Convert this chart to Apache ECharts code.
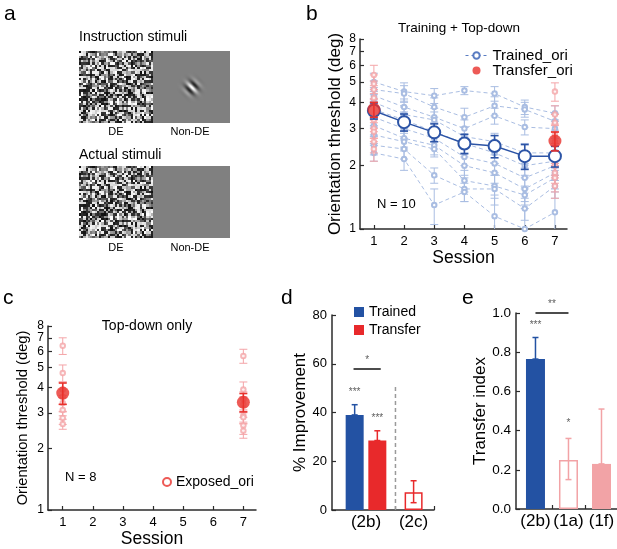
<!DOCTYPE html>
<html><head><meta charset="utf-8">
<script src="https://cdn.jsdelivr.net/npm/echarts@6/dist/echarts.min.js"></script>
<style>html,body{margin:0;padding:0;background:#fff}#c{width:617px;height:549px}</style>
</head><body><div id="c"></div>
<script>
// ---------- DATA ----------
const sessions = [1, 2, 3, 4, 5, 6, 7];
const thresholdTicks = [1, 2, 3, 4, 5, 6, 7, 8];

// Panel b: Training + Top-down (10 subjects, trained orientation, sessions 1-7)
const trainedSubjects = [
  [5.0, 4.5, 4.3, 4.55, 4.4, 3.8, 3.55],
  [4.6, 4.4, 3.8, 3.4, 3.85, 3.7, 3.25],
  [4.3, 3.8, 3.4, 3.0, 3.45, 3.05, 3.0],
  [4.0, 3.5, 3.3, 2.75, 2.6, 2.3, 2.3],
  [3.7, 3.3, 2.9, 2.55, 2.3, 2.0, 2.1],
  [3.4, 3.0, 2.7, 2.2, 2.05, 1.75, 2.0],
  [3.1, 2.7, 2.5, 2.0, 1.85, 1.55, 1.85],
  [2.8, 2.6, 2.4, 1.7, 1.6, 1.45, 1.75],
  [2.5, 2.4, 1.8, 1.55, 1.55, 1.25, 1.6],
  [2.3, 2.15, 1.3, 1.5, 1.15, 1.0, 1.2]
];
const trainedSubjectErr = [
  [0.5, 0.45, 0.35, 0.2, 0.35, 0.3, 0.3],
  [0.45, 0.4, 0.4, 0.35, 0.4, 0.3, 0.3],
  [0.4, 0.35, 0.35, 0.3, 0.3, 0.25, 0.3],
  [0.35, 0.3, 0.3, 0.3, 0.25, 0.25, 0.25],
  [0.35, 0.3, 0.3, 0.25, 0.25, 0.2, 0.2],
  [0.3, 0.3, 0.3, 0.2, 0.2, 0.2, 0.2],
  [0.3, 0.25, 0.25, 0.2, 0.2, 0.2, 0.15],
  [0.25, 0.25, 0.2, 0.2, 0.2, 0.15, 0.2],
  [0.25, 0.25, 0.15, 0.2, 0.25, 0.15, 0.2],
  [0.2, 0.25, 0.25, 0.15, 0.3, 0.25, 0.3]
];
const trainedMean = [3.65, 3.22, 2.88, 2.55, 2.48, 2.22, 2.22];
const trainedMeanErr = [0.32, 0.3, 0.28, 0.27, 0.3, 0.3, 0.25];

const transferSessions = [1, 7];
const transferSubjects = [
  [5.4, 4.9, 4.6, 4.2, 3.8, 3.3, 3.0, 2.9, 2.6, 2.4],
  [4.5, 3.5, 3.2, 2.8, 2.6, 2.3, 2.0, 1.85, 1.75, 1.6]
];
const transferSubjectErr = [
  [0.6, 0.5, 0.45, 0.4, 0.35, 0.3, 0.3, 0.3, 0.3, 0.3],
  [0.45, 0.35, 0.3, 0.3, 0.3, 0.25, 0.25, 0.2, 0.25, 0.2]
];
const transferMean = [3.7, 2.62];
const transferMeanErr = [0.3, 0.27];

// Panel c: Top-down only (8 subjects, sessions 1 and 7)
const exposedSessions = [1, 7];
const exposedSubjects = [
  [6.4, 4.7, 3.9, 3.6, 3.35, 3.1, 2.83, 2.64],
  [5.7, 3.9, 3.5, 3.3, 2.9, 2.85, 2.6, 2.45]
];
const exposedSubjectErr = [
  [0.6, 0.45, 0.35, 0.3, 0.3, 0.2, 0.2, 0.15],
  [0.45, 0.35, 0.3, 0.3, 0.2, 0.2, 0.25, 0.2]
];
const exposedMean = [3.75, 3.38];
const exposedMeanErr = [0.45, 0.35];

// Panel d: % Improvement
const improvementLabels = ['(2b)', '(2c)'];
const improvementLabelPos = [1.5, 3.6];
const improvementTicks = [2.8, 4.5];
const improvementTrained = [1, 39];
const improvementTransfer = [2, 28.5];
const improvementTopDown = [3.6, 7.3];
const improvementErrBars = [[1, 39, 43.2], [2, 28.5, 32.5], [3.6, 3.0, 12.0]];
const improvementDivider = [2.8, 51];
const improvementSigLine = [[0.95, 57.8], [2.15, 57.8]];
const improvementStars = [['*', 1.55, 61.5], ['***', 1, 48.5], ['***', 2, 37.5]];

// Panel e: Transfer index
const transferIdxLabels = ['(2b)', '(1a)', '(1f)'];
const transferIdxPos = [1, 2, 3];
const transferIdxTicks = [1.5, 2.5];
const transferIdx2b = [1, 0.765];
const transferIdx1a = [2, 0.25];
const transferIdx1f = [3, 0.23];
const transferIdxErrBars = [[1, 0.765, 0.875], [2, 0.15, 0.36], [3, 0.23, 0.51]];
const transferIdxSigLine = [[1, 1.0], [2, 1.0]];
const transferIdxStars = [['**', 1.5, 1.045], ['***', 1, 0.935], ['*', 2, 0.44]];

// ---------- STYLE ----------
const FONT = 'Arial, "Liberation Sans", Helvetica, sans-serif';
const AX = '#2b2b2b';
const DARKBLUE = '#2c54a6';
const LIGHTBLUE = '#a9bde2';
const PINK = '#f4a5a8';
const RED = '#e8312c';
const BARBLUE = '#2352a3';
const BARRED = '#e8292b';
const EPINK = '#f2a3a6';

// ---------- PANEL A IMAGES (stimulus pictures, decoration) ----------
function hash(x, y) {
  let h = (x * 374761393 + y * 668265263) | 0;
  h = Math.imul(h ^ (h >>> 13), 1274126177);
  h = h ^ (h >>> 16);
  return (h >>> 0) / 4294967296;
}
function makeNoise(w, h) {
  const cw = 33, ch = 32;
  const small = document.createElement('canvas'); small.width = cw; small.height = ch;
  const sctx = small.getContext('2d');
  const sd = sctx.createImageData(cw, ch);
  for (let y = 0; y < ch; y++) {
    for (let x = 0; x < cw; x++) {
      const r = hash(x + 11, y + 7);
      let g;
      if (r < 0.35) g = 15 + r * 120;
      else if (r > 0.65) g = 200 + (r - 0.65) * 160;
      else g = 70 + (r - 0.35) * 380;
      g = Math.max(0, Math.min(255, g | 0));
      const i = (y * cw + x) * 4;
      sd.data[i] = sd.data[i + 1] = sd.data[i + 2] = g; sd.data[i + 3] = 255;
    }
  }
  sctx.putImageData(sd, 0, 0);
  const cv = document.createElement('canvas'); cv.width = w; cv.height = h;
  const ctx = cv.getContext('2d');
  ctx.imageSmoothingEnabled = false;
  ctx.drawImage(small, 0, 0, w, h);
  return cv.toDataURL();
}
function makeGray(w, h, gabor) {
  const cv = document.createElement('canvas'); cv.width = w; cv.height = h;
  const ctx = cv.getContext('2d');
  const img = ctx.createImageData(w, h);
  const cx = w / 2, cy = h / 2, sigma = 4.6, lambda = 8;
  for (let y = 0; y < h; y++) {
    for (let x = 0; x < w; x++) {
      let v = 128;
      if (gabor) {
        const dx = x - cx, dy = y - cy;
        const u = (dx - dy) / Math.SQRT2;
        const env = Math.exp(-(dx * dx + dy * dy) / (2 * sigma * sigma));
        v = 128 + 127 * env * Math.cos(2 * Math.PI * u / lambda);
      }
      const i = (y * w + x) * 4;
      img.data[i] = img.data[i + 1] = img.data[i + 2] = v;
      img.data[i + 3] = 255;
    }
  }
  ctx.putImageData(img, 0, 0);
  return cv.toDataURL();
}
const noiseURL = makeNoise(74, 72);
const gaborURL = makeGray(77, 72, true);
const grayURL = makeGray(77, 72, false);

// ---------- HELPERS ----------
function errSeries(data, xi, yi, color, width, cap, z) {
  return {
    type: 'custom', xAxisIndex: xi, yAxisIndex: yi, z: z, silent: true, clip: true,
    data: data, encode: { x: 0, y: [1, 2] },
    renderItem: function (params, api) {
      const x = api.value(0), lo = api.value(1), hi = api.value(2);
      const p1 = api.coord([x, lo]), p2 = api.coord([x, hi]);
      const st = { stroke: color, lineWidth: width, fill: null };
      return {
        type: 'group', children: [
          { type: 'line', shape: { x1: p1[0], y1: p1[1], x2: p2[0], y2: p2[1] }, style: st },
          { type: 'line', shape: { x1: p2[0] - cap, y1: p2[1], x2: p2[0] + cap, y2: p2[1] }, style: st },
          { type: 'line', shape: { x1: p1[0] - cap, y1: p1[1], x2: p1[0] + cap, y2: p1[1] }, style: st }
        ]
      };
    }
  };
}
function axisBase(gi) {
  return {
    gridIndex: gi,
    axisLine: { show: true, onZero: false, lineStyle: { color: AX, width: 1.5 } },
    axisTick: { show: true, inside: true, length: 4, lineStyle: { color: AX, width: 1.2 } },
    axisLabel: { color: '#000', fontFamily: FONT },
    splitLine: { show: false },
    nameLocation: 'middle',
    nameTextStyle: { color: '#000', fontFamily: FONT }
  };
}
function merge(a, b) {
  const o = Object.assign({}, a);
  for (const k in b) {
    if (b[k] && typeof b[k] === 'object' && !Array.isArray(b[k]) && a[k] && typeof a[k] === 'object') o[k] = Object.assign({}, a[k], b[k]);
    else o[k] = b[k];
  }
  return o;
}
function starSeries(stars, xi, yi) {
  return {
    type: 'scatter', xAxisIndex: xi, yAxisIndex: yi, symbolSize: 0, silent: true, z: 20, clip: false,
    data: stars.map(s => ({ name: s[0], value: [s[1], s[2]] })),
    label: { show: true, position: 'inside', formatter: '{b}', fontSize: 10, color: '#333', fontFamily: FONT }
  };
}
function nearestLabel(v, pos, labels) {
  let best = 0;
  for (let i = 1; i < pos.length; i++) if (Math.abs(pos[i] - v) < Math.abs(pos[best] - v)) best = i;
  return labels[best];
}

// ---------- SERIES ----------
const series = [];
// Panel b subjects
trainedSubjects.forEach(function (vals, i) {
  series.push({
    type: 'line', name: 'Trained_ori', xAxisIndex: 0, yAxisIndex: 0, z: 2, silent: true,
    data: sessions.map((s, k) => [s, vals[k]]),
    symbol: 'emptyCircle', symbolSize: 4.5,
    lineStyle: { color: LIGHTBLUE, width: 1, type: [4, 3] },
    itemStyle: { color: LIGHTBLUE, borderColor: LIGHTBLUE, borderWidth: 1 }
  });
});
const subjErrData = [];
trainedSubjects.forEach((vals, i) => vals.forEach((v, k) => subjErrData.push([sessions[k], v - trainedSubjectErr[i][k], v + trainedSubjectErr[i][k]])));
series.push(errSeries(subjErrData, 0, 0, LIGHTBLUE, 1, 4, 1));
// transfer subjects (pink)
const trSubjData = [], trSubjErr = [];
transferSessions.forEach((s, j) => transferSubjects[j].forEach((v, i) => {
  trSubjData.push([s, v]);
  trSubjErr.push([s, v - transferSubjectErr[j][i], v + transferSubjectErr[j][i]]);
}));
series.push(errSeries(trSubjErr, 0, 0, PINK, 1, 4, 3));
series.push({
  type: 'scatter', name: 'Transfer subjects', xAxisIndex: 0, yAxisIndex: 0, z: 4, silent: true,
  data: trSubjData, symbol: 'emptyCircle', symbolSize: 4.5,
  itemStyle: { color: PINK, borderColor: PINK, borderWidth: 1 }
});
// mean trained
series.push(errSeries(sessions.map((s, k) => [s, trainedMean[k] - trainedMeanErr[k], trainedMean[k] + trainedMeanErr[k]]), 0, 0, DARKBLUE, 1.6, 4, 6));
series.push({
  type: 'line', name: 'Trained mean', xAxisIndex: 0, yAxisIndex: 0, z: 7, silent: true,
  data: sessions.map((s, k) => [s, trainedMean[k]]),
  symbol: 'emptyCircle', symbolSize: 12,
  lineStyle: { color: DARKBLUE, width: 1.5 },
  itemStyle: { color: DARKBLUE, borderColor: DARKBLUE, borderWidth: 1.5 }
});
// mean transfer
series.push(errSeries(transferSessions.map((s, k) => [s, transferMean[k] - transferMeanErr[k], transferMean[k] + transferMeanErr[k]]), 0, 0, RED, 1.6, 4, 8));
series.push({
  type: 'scatter', name: 'Transfer_ori', xAxisIndex: 0, yAxisIndex: 0, z: 9, silent: true,
  data: transferSessions.map((s, k) => [s, transferMean[k]]),
  symbol: 'circle', symbolSize: 13, itemStyle: { color: RED }
});

// Panel c
const exData = [], exErr = [];
exposedSessions.forEach((s, j) => exposedSubjects[j].forEach((v, i) => {
  exData.push([s, v]);
  exErr.push([s, v - exposedSubjectErr[j][i], v + exposedSubjectErr[j][i]]);
}));
series.push(errSeries(exErr, 1, 1, PINK, 1, 4, 2));
series.push({
  type: 'scatter', name: 'Exposed_ori', xAxisIndex: 1, yAxisIndex: 1, z: 3, silent: true,
  data: exData, symbol: 'emptyCircle', symbolSize: 4.5,
  itemStyle: { color: PINK, borderColor: PINK, borderWidth: 1 }
});
series.push(errSeries(exposedSessions.map((s, k) => [s, exposedMean[k] - exposedMeanErr[k], exposedMean[k] + exposedMeanErr[k]]), 1, 1, RED, 1.6, 4, 5));
series.push({
  type: 'scatter', name: 'Exposed mean', xAxisIndex: 1, yAxisIndex: 1, z: 6, silent: true,
  data: exposedSessions.map((s, k) => [s, exposedMean[k]]),
  symbol: 'circle', symbolSize: 13, itemStyle: { color: RED }
});

// Panel d
series.push({ type: 'bar', name: 'Trained', xAxisIndex: 2, yAxisIndex: 2, barWidth: 18, barGap: '-100%', z: 3, silent: true,
  data: [improvementTrained], itemStyle: { color: BARBLUE } });
series.push({ type: 'bar', name: 'Transfer', xAxisIndex: 2, yAxisIndex: 2, barWidth: 18, barGap: '-100%', z: 3, silent: true,
  data: [improvementTransfer], itemStyle: { color: BARRED } });
series.push({ type: 'bar', name: 'Top-down (2c)', xAxisIndex: 2, yAxisIndex: 2, barWidth: 18, barGap: '-100%', z: 3, silent: true,
  data: [improvementTopDown], itemStyle: { color: '#fff', borderColor: BARRED, borderWidth: 1.5 } });
series.push(errSeries([improvementErrBars[0]], 2, 2, BARBLUE, 1.5, 3, 2));
series.push(errSeries([improvementErrBars[1]], 2, 2, BARRED, 1.5, 3, 2));
series.push(errSeries([improvementErrBars[2]], 2, 2, BARRED, 1.5, 3, 4));
series.push({ type: 'line', xAxisIndex: 2, yAxisIndex: 2, silent: true, z: 1, symbol: 'none',
  data: [[improvementDivider[0], 0], [improvementDivider[0], improvementDivider[1]]],
  lineStyle: { color: '#9a9a9a', width: 1.5, type: [4, 3] } });
series.push({ type: 'line', xAxisIndex: 2, yAxisIndex: 2, silent: true, z: 5, symbol: 'none',
  data: improvementSigLine, lineStyle: { color: '#111', width: 1.5 } });
series.push(starSeries(improvementStars, 2, 2));

// Panel e
series.push({ type: 'bar', name: '(2b)', xAxisIndex: 3, yAxisIndex: 3, barWidth: 19, barGap: '-100%', z: 3, silent: true,
  data: [transferIdx2b], itemStyle: { color: BARBLUE } });
series.push({ type: 'bar', name: '(1a)', xAxisIndex: 3, yAxisIndex: 3, barWidth: 19, barGap: '-100%', z: 3, silent: true,
  data: [transferIdx1a], itemStyle: { color: '#fff', borderColor: EPINK, borderWidth: 1.5 } });
series.push({ type: 'bar', name: '(1f)', xAxisIndex: 3, yAxisIndex: 3, barWidth: 19, barGap: '-100%', z: 3, silent: true,
  data: [transferIdx1f], itemStyle: { color: EPINK } });
series.push(errSeries([transferIdxErrBars[0]], 3, 3, BARBLUE, 1.5, 3, 2));
series.push(errSeries([transferIdxErrBars[1]], 3, 3, EPINK, 1.5, 3, 4));
series.push(errSeries([transferIdxErrBars[2]], 3, 3, EPINK, 1.5, 3, 2));
series.push({ type: 'line', xAxisIndex: 3, yAxisIndex: 3, silent: true, z: 5, symbol: 'none', clip: false,
  data: transferIdxSigLine, lineStyle: { color: '#111', width: 1.5 } });
series.push(starSeries(transferIdxStars, 3, 3));

// ---------- AXES ----------
const xAxis = [
  merge(axisBase(0), { type: 'value', min: 0.54, max: 7.4,
    axisTick: { customValues: sessions },
    axisLabel: { customValues: sessions, fontSize: 13, margin: 6 },
    name: 'Session', nameGap: 20, nameTextStyle: { fontSize: 17.5 } }),
  merge(axisBase(1), { type: 'value', min: 0.51, max: 7.42,
    axisTick: { customValues: sessions },
    axisLabel: { customValues: sessions, fontSize: 13, margin: 6 },
    name: 'Session', nameGap: 19, nameTextStyle: { fontSize: 17.5 } }),
  merge(axisBase(2), { type: 'value', min: 0, max: 4.5,
    axisTick: { customValues: improvementTicks },
    axisLabel: { customValues: improvementLabelPos, fontSize: 17, margin: 4,
      formatter: v => nearestLabel(v, improvementLabelPos, improvementLabels) } }),
  merge(axisBase(3), { type: 'value', min: 0.41, max: 3.47,
    axisTick: { customValues: transferIdxTicks },
    axisLabel: { customValues: transferIdxPos, fontSize: 17, margin: 4,
      formatter: v => nearestLabel(v, transferIdxPos, transferIdxLabels) } })
];
const yAxis = [
  merge(axisBase(0), { type: 'log', logBase: 10, min: 1, max: 8,
    axisTick: { customValues: thresholdTicks },
    axisLabel: { customValues: thresholdTicks, fontSize: 12, margin: 4 },
    name: 'Orientation threshold (deg)', nameGap: 16, nameTextStyle: { fontSize: 17 } }),
  merge(axisBase(1), { type: 'log', logBase: 10, min: 1, max: 8,
    axisTick: { customValues: thresholdTicks },
    axisLabel: { customValues: thresholdTicks, fontSize: 12, margin: 4 },
    name: 'Orientation threshold (deg)', nameGap: 18, nameTextStyle: { fontSize: 14.7 } }),
  merge(axisBase(2), { type: 'value', min: 0, max: 80, interval: 20,
    axisLabel: { fontSize: 13, margin: 5 },
    name: '% Improvement', nameGap: 17, nameTextStyle: { fontSize: 17 } }),
  merge(axisBase(3), { type: 'value', min: 0, max: 1, interval: 0.2,
    axisLabel: { fontSize: 13.5, margin: 5, formatter: v => v.toFixed(1) },
    name: 'Transfer index', nameGap: 25, nameTextStyle: { fontSize: 17 } })
];

// ---------- GRAPHIC ----------
function txt(x, y, s, size, align, extra) {
  return Object.assign({ type: 'text', x: x, y: y, silent: true,
    style: { text: s, fontSize: size, fontFamily: FONT, fill: '#000', align: align || 'left', verticalAlign: 'middle' } }, extra || {});
}
const graphic = [
  txt(4, 14, 'a', 21), txt(306, 14, 'b', 21), txt(3, 298, 'c', 21), txt(281, 298, 'd', 21), txt(462, 298, 'e', 21),
  txt(79, 37, 'Instruction stimuli', 14),
  { type: 'image', x: 79, y: 51, silent: true, style: { image: noiseURL, width: 74, height: 72 } },
  { type: 'image', x: 153, y: 51, silent: true, style: { image: gaborURL, width: 77, height: 72 } },
  txt(116, 132, 'DE', 11, 'center'), txt(190, 132, 'Non-DE', 11, 'center'),
  txt(79, 155, 'Actual stimuli', 14),
  { type: 'image', x: 79, y: 166, silent: true, style: { image: noiseURL, width: 74, height: 72 } },
  { type: 'image', x: 153, y: 166, silent: true, style: { image: grayURL, width: 77, height: 72 } },
  txt(116, 248, 'DE', 11, 'center'), txt(190, 248, 'Non-DE', 11, 'center'),
  txt(459, 28, 'Training + Top-down', 13.5, 'center'),
  txt(377, 204, 'N = 10', 13),
  txt(147, 326, 'Top-down only', 14, 'center'),
  txt(65, 477, 'N = 8', 13)
];

// ---------- OPTION ----------
const option = {
  animation: false,
  backgroundColor: '#fff',
  textStyle: { fontFamily: FONT },
  grid: [
    { left: 360, top: 39, width: 207, height: 190, outerBoundsMode: 'none' },
    { left: 48, top: 326, width: 208, height: 184, outerBoundsMode: 'none' },
    { left: 332, top: 315, width: 102, height: 195, outerBoundsMode: 'none' },
    { left: 516, top: 313, width: 101, height: 196, outerBoundsMode: 'none' }
  ],
  xAxis: xAxis,
  yAxis: yAxis,
  legend: [
    { left: 460, top: 43, orient: 'vertical', itemWidth: 22, itemHeight: 8, itemGap: 0, selectedMode: false,
      textStyle: { fontSize: 15, color: '#000', fontFamily: FONT, lineHeight: 13 },
      data: [
        { name: 'Trained_ori', lineStyle: { color: '#5a7cc2', type: [3, 3], width: 1 }, itemStyle: { color: '#5a7cc2', borderColor: '#5a7cc2' } },
        { name: 'Transfer_ori', icon: 'circle', itemStyle: { color: RED } }
      ] },
    { left: 157, top: 470, itemWidth: 8, itemHeight: 8, selectedMode: false,
      textStyle: { fontSize: 14, color: '#000', fontFamily: FONT },
      data: [{ name: 'Exposed_ori', icon: 'circle', itemStyle: { color: '#fff', borderColor: RED, borderWidth: 2 } }] },
    { left: 349, top: 300, orient: 'vertical', itemWidth: 10, itemHeight: 10, itemGap: 4, selectedMode: false,
      textStyle: { fontSize: 14, color: '#000', fontFamily: FONT },
      data: [{ name: 'Trained', icon: 'rect' }, { name: 'Transfer', icon: 'rect' }] }
  ],
  graphic: graphic,
  series: series
};
const chart = echarts.init(document.getElementById('c'));
chart.setOption(option);
</script>
</body></html>
